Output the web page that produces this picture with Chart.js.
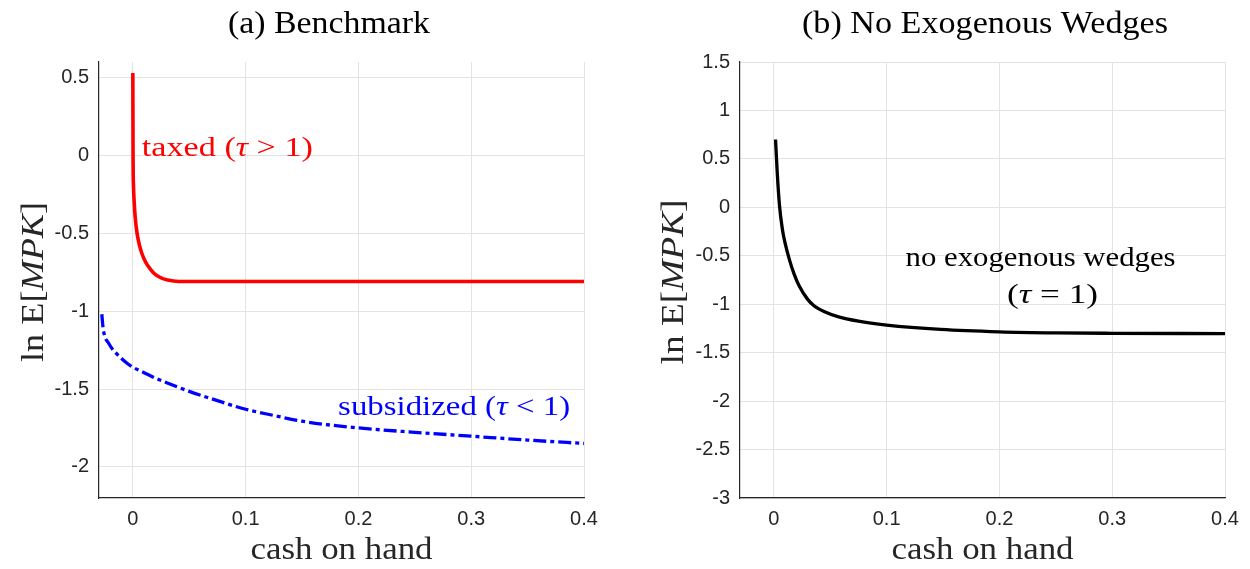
<!DOCTYPE html>
<html>
<head>
<meta charset="utf-8">
<script src="https://cdn.jsdelivr.net/npm/chart.js@4.4.0/dist/chart.umd.min.js"></script>
<style>
  html, body { margin: 0; padding: 0; background: #fff; }
  #wrap { position: relative; width: 1250px; height: 569px; }
  canvas { position: absolute; top: 0; }
</style>
</head>
<body>
<div id="wrap">
  <canvas id="benchmark" width="625" height="569" style="left:0"></canvas>
  <canvas id="noWedges" width="625" height="569" style="left:625px"></canvas>
</div>
<script>
// --- (a) benchmark: taxed and subsidized firms ---
const taxedCash = [0, 0.0002, 0.0006, 0.0012, 0.002, 0.003, 0.0042, 0.0058, 0.0078, 0.01, 0.0125, 0.0155, 0.0185, 0.022, 0.026, 0.031, 0.036, 0.045, 0.1, 0.2, 0.3, 0.4];
const taxedMPK = [0.53, 0.0, -0.2, -0.3, -0.39, -0.46, -0.52, -0.575, -0.625, -0.665, -0.70, -0.73, -0.755, -0.775, -0.79, -0.80, -0.806, -0.81, -0.81, -0.81, -0.81, -0.81];

const subsidizedCash = [-0.0275, -0.0265, -0.025, -0.022, -0.018, -0.012, -0.006, 0, 0.01, 0.02, 0.03, 0.05, 0.075, 0.1, 0.125, 0.15, 0.2, 0.25, 0.3, 0.35, 0.4];
const subsidizedMPK = [-1.02, -1.10, -1.16, -1.20, -1.245, -1.29, -1.33, -1.36, -1.395, -1.43, -1.46, -1.515, -1.575, -1.63, -1.67, -1.707, -1.75, -1.778, -1.803, -1.828, -1.85];

// --- (b) no exogenous wedges ---
const noWedgeCash = [0.0015, 0.003, 0.005, 0.0075, 0.01, 0.0138, 0.018, 0.0224, 0.03, 0.0356, 0.045, 0.056, 0.075, 0.1, 0.148, 0.2, 0.25, 0.3, 0.4];
const noWedgeMPK = [0.70, 0.36, 0.02, -0.22, -0.37, -0.54, -0.69, -0.81, -0.95, -1.015, -1.078, -1.125, -1.175, -1.215, -1.26, -1.285, -1.296, -1.30, -1.303];

// --- ticks ---
const cashTicks = [0, 0.1, 0.2, 0.3, 0.4];
const benchmarkTicks = [0.5, 0, -0.5, -1, -1.5, -2];
const noWedgeTicks = [1.5, 1, 0.5, 0, -0.5, -1, -1.5, -2, -2.5, -3];

const SERIF = '"Liberation Serif", "Times New Roman", serif';
const SANS = '"Liberation Sans", Arial, sans-serif';
const AXIS_COLOR = "#262626";
const GRID_COLOR = "#e3e3e3";

function pts(xs, ys) {
  return xs.map((x, i) => ({ x, y: ys[i] }));
}

function fmt(v) {
  return String(+Number(v).toFixed(2));
}

// draws a run of text pieces (some italic), stretched to a given width
function drawRuns(ctx, runs, x, y, o) {
  ctx.save();
  ctx.translate(x, y);
  if (o.rotate) ctx.rotate(o.rotate);
  ctx.fillStyle = o.color || "#000";
  ctx.textBaseline = "alphabetic";
  ctx.textAlign = "left";
  const fonts = runs.map(r => (r.italic ? "italic " : "") + o.size + "px " + SERIF);
  let total = 0;
  const widths = runs.map((r, i) => {
    ctx.font = fonts[i];
    const w = ctx.measureText(r.text).width;
    total += w;
    return w;
  });
  ctx.scale(o.width ? o.width / total : 1, 1);
  let cx = o.align === "center" ? -total / 2 : 0;
  runs.forEach((r, i) => {
    ctx.font = fonts[i];
    ctx.fillText(r.text, cx, 0);
    cx += widths[i];
  });
  ctx.restore();
}

// title, axis labels and in-plot notes
const panelText = {
  id: "panelText",
  afterDraw(chart, args, opts) {
    const { ctx, chartArea, scales } = chart;
    const midX = (chartArea.left + chartArea.right) / 2;
    drawRuns(ctx, [{ text: opts.title }], opts.titleX, 33, { size: 32, width: opts.titleWidth, align: "center" });
    drawRuns(ctx, [{ text: "cash on hand" }], midX, 559, { size: 31, width: 182, align: "center", color: AXIS_COLOR });
    drawRuns(ctx, [{ text: "ln E[" }, { text: "MPK", italic: true }, { text: "]" }],
      opts.yLabelX, 282, { size: 31, width: opts.yLabelWidth, align: "center", rotate: -Math.PI / 2, color: AXIS_COLOR });
    (opts.notes || []).forEach(n => {
      const px = scales.x.getPixelForValue(n.x);
      const py = scales.y.getPixelForValue(n.y);
      drawRuns(ctx, n.runs, px, py, { size: 27, width: n.width, align: n.align, color: n.color });
    });
  }
};

function makePanel(id, datasets, yMin, yMax, yTicks, padRight, yWidth, text) {
  return new Chart(document.getElementById(id), {
    type: "line",
    data: { datasets },
    options: {
      responsive: false,
      animation: false,
      events: [],
      layout: { padding: { left: 0, top: 62, right: padRight, bottom: 0 } },
      plugins: {
        legend: { display: false },
        tooltip: { enabled: false },
        panelText: text
      },
      elements: { point: { radius: 0 } },
      scales: {
        x: {
          type: "linear",
          min: -0.03,
          max: 0.4,
          afterBuildTicks: s => { s.ticks = cashTicks.map(v => ({ value: v })); },
          afterFit: s => { s.height = 71; },
          grid: { color: GRID_COLOR, lineWidth: 1, drawTicks: false },
          border: { display: true, color: AXIS_COLOR, width: 1.2 },
          ticks: { color: AXIS_COLOR, font: { family: SANS, size: 20 }, padding: 9, maxRotation: 0, callback: fmt }
        },
        y: {
          type: "linear",
          min: yMin,
          max: yMax,
          afterBuildTicks: s => { s.ticks = yTicks.map(v => ({ value: v })); },
          afterFit: s => { s.width = yWidth; },
          grid: { color: GRID_COLOR, lineWidth: 1, drawTicks: false },
          border: { display: true, color: AXIS_COLOR, width: 1.2 },
          ticks: { color: AXIS_COLOR, font: { family: SANS, size: 20 }, padding: 10, callback: fmt }
        }
      }
    },
    plugins: [panelText]
  });
}

function curve(xs, ys, color, width, dash) {
  return {
    data: pts(xs, ys),
    borderColor: color,
    borderWidth: width,
    borderDash: dash || [],
    borderCapStyle: "butt",
    borderJoinStyle: "round",
    cubicInterpolationMode: "monotone",
    fill: false,
    pointRadius: 0
  };
}

makePanel("benchmark",
  [
    curve(taxedCash, taxedMPK, "#ff0000", 3.6),
    curve(subsidizedCash, subsidizedMPK, "#0000ff", 3.3, [13, 4, 4, 4])
  ],
  -2.2, 0.6, benchmarkTicks, 41, 99,
  {
    title: "(a) Benchmark", titleX: 329, titleWidth: 202,
    yLabelX: 43, yLabelWidth: 160,
    notes: [
      { runs: [{ text: "taxed (" }, { text: "τ", italic: true }, { text: " > 1)" }], x: 0.008, y: -0.004, width: 171, align: "left", color: "#ff0000" },
      { runs: [{ text: "subsidized (" }, { text: "τ", italic: true }, { text: " < 1)" }], x: 0.182, y: -1.667, width: 232, align: "left", color: "#0000ff" }
    ]
  });

makePanel("noWedges",
  [
    curve(noWedgeCash, noWedgeMPK, "#000000", 3.3)
  ],
  -3, 1.5, noWedgeTicks, 25, 115,
  {
    title: "(b) No Exogenous Wedges", titleX: 360, titleWidth: 366,
    yLabelX: 58, yLabelWidth: 165,
    notes: [
      { runs: [{ text: "no exogenous wedges" }], x: 0.2365, y: -0.605, width: 270, align: "center", color: "#000" },
      { runs: [{ text: "(" }, { text: "τ", italic: true }, { text: " = 1)" }], x: 0.247, y: -0.987, width: 91, align: "center", color: "#000" }
    ]
  });
</script>
</body>
</html>
